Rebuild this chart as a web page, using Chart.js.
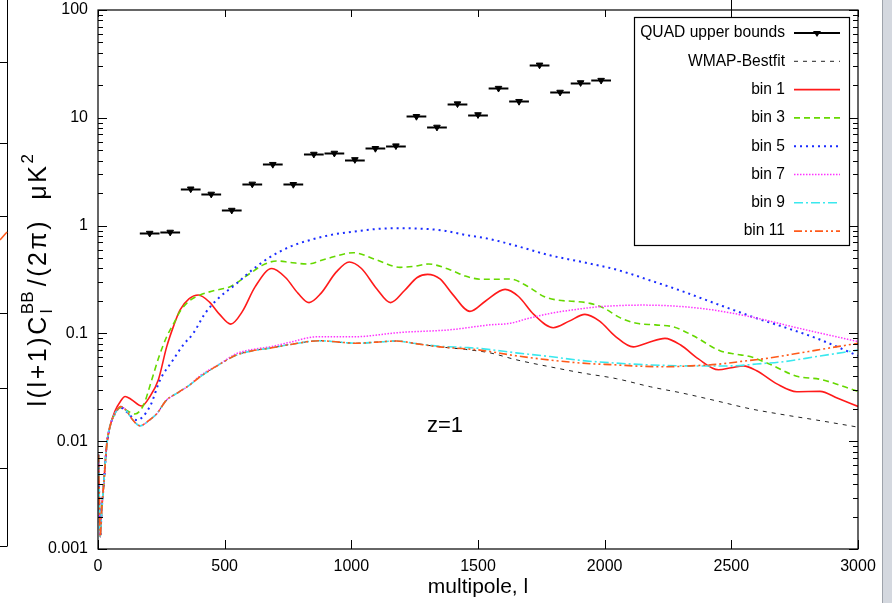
<!DOCTYPE html>
<html>
<head>
<meta charset="utf-8">
<script src="https://cdn.jsdelivr.net/npm/chart.js@4.4.0/dist/chart.umd.min.js"></script>
<style>
  html, body { margin: 0; padding: 0; background: #fff; }
  canvas { display: block; }
</style>
</head>
<body>
<canvas id="chart" width="892" height="603"></canvas>
<script>
// --- data (multipole l, value in uK^2) ---
const quadEll   = [204, 285, 366, 447, 528, 609, 690, 771, 852, 933, 1014, 1095, 1176, 1257, 1338, 1419, 1500, 1581, 1662, 1743, 1824, 1905, 1986];
const quadUpper = [0.85, 0.87, 2.19, 1.96, 1.39, 2.43, 3.7, 2.41, 4.6, 4.7, 4.1, 5.2, 5.5, 10.3, 8.2, 13.5, 10.7, 18.8, 14.2, 30.9, 17.3, 21.2, 22.3];
const quadHalfWidth = 39;

const wmapEll = [2, 5, 9, 14, 22, 34, 47, 67, 89, 110, 135, 166, 200, 232, 270, 311, 360, 403, 470, 547, 610, 679, 760, 876, 950, 1021, 1100, 1179, 1260, 1350, 1450, 1547, 1650, 1784, 1910, 2047, 2180, 2311, 2440, 2574, 2700, 2837, 3000];
const wmapVal = [0.0075, 0.003, 0.0013, 0.0022, 0.0038, 0.009, 0.0136, 0.018, 0.021, 0.0195, 0.016, 0.0139, 0.0155, 0.018, 0.024, 0.0278, 0.033, 0.0396, 0.05, 0.063, 0.069, 0.073, 0.079, 0.0855, 0.083, 0.081, 0.083, 0.085, 0.08, 0.075, 0.071, 0.066, 0.057, 0.049, 0.043, 0.038, 0.032, 0.0278, 0.0237, 0.020, 0.0177, 0.0157, 0.0135];

const bin1Ell = [2, 5, 9, 14, 22, 34, 47, 67, 89, 107, 130, 172, 205, 238, 271, 300, 324, 360, 396, 440, 480, 524, 570, 620, 686, 740, 790, 833, 880, 940, 992, 1040, 1100, 1155, 1210, 1260, 1301, 1350, 1400, 1468, 1530, 1607, 1660, 1720, 1797, 1860, 1922, 1980, 2040, 2113, 2170, 2238, 2300, 2370, 2449, 2500, 2547, 2600, 2680, 2758, 2850, 2920, 3000];
const bin1Val = [0.0075, 0.003, 0.0013, 0.0022, 0.0038, 0.009, 0.0136, 0.019, 0.0235, 0.026, 0.0245, 0.0212, 0.026, 0.037, 0.075, 0.12, 0.165, 0.21, 0.227, 0.195, 0.15, 0.122, 0.16, 0.27, 0.40, 0.33, 0.235, 0.193, 0.235, 0.37, 0.46, 0.40, 0.26, 0.193, 0.25, 0.33, 0.353, 0.32, 0.23, 0.16, 0.20, 0.256, 0.22, 0.15, 0.113, 0.13, 0.150, 0.13, 0.095, 0.075, 0.082, 0.090, 0.078, 0.058, 0.046, 0.048, 0.050, 0.045, 0.034, 0.0288, 0.029, 0.025, 0.021];

const bin3Ell = [2, 5, 9, 14, 22, 34, 47, 67, 89, 110, 146, 179, 212, 240, 271, 300, 324, 360, 403, 460, 521, 600, 650, 705, 760, 824, 900, 1008, 1100, 1192, 1250, 1304, 1389, 1450, 1514, 1570, 1626, 1700, 1760, 1811, 1880, 1942, 2000, 2060, 2126, 2200, 2271, 2350, 2455, 2520, 2574, 2650, 2758, 2850, 3000];
const bin3Val = [0.0075, 0.003, 0.0013, 0.0022, 0.0038, 0.009, 0.0136, 0.018, 0.0205, 0.0195, 0.0179, 0.0215, 0.037, 0.06, 0.093, 0.125, 0.16, 0.2, 0.227, 0.25, 0.271, 0.36, 0.43, 0.47, 0.455, 0.44, 0.49, 0.56, 0.48, 0.41, 0.42, 0.44, 0.39, 0.34, 0.318, 0.318, 0.32, 0.27, 0.22, 0.204, 0.198, 0.19, 0.17, 0.14, 0.124, 0.12, 0.115, 0.095, 0.069, 0.064, 0.061, 0.052, 0.040, 0.0375, 0.029];

const bin5Ell = [2, 5, 9, 14, 22, 34, 47, 67, 89, 110, 153, 205, 245, 297, 336, 376, 420, 468, 547, 610, 679, 760, 837, 920, 1008, 1100, 1192, 1280, 1363, 1450, 1547, 1660, 1784, 1910, 2047, 2180, 2311, 2410, 2508, 2600, 2705, 2837, 3000];
const bin5Val = [0.0075, 0.003, 0.0013, 0.0022, 0.0038, 0.009, 0.0136, 0.018, 0.0205, 0.019, 0.0157, 0.021, 0.037, 0.057, 0.078, 0.1, 0.15, 0.204, 0.29, 0.39, 0.51, 0.64, 0.735, 0.82, 0.88, 0.93, 0.945, 0.935, 0.9, 0.82, 0.75, 0.64, 0.53, 0.46, 0.39, 0.31, 0.244, 0.2, 0.165, 0.138, 0.115, 0.09, 0.062];

const bin7Ell = [2, 5, 9, 14, 22, 34, 47, 67, 89, 110, 135, 166, 200, 232, 270, 311, 360, 403, 480, 547, 610, 679, 760, 863, 1008, 1192, 1389, 1547, 1626, 1700, 1784, 1880, 1982, 2153, 2376, 2574, 2771, 3000];
const bin7Val = [0.0075, 0.003, 0.0013, 0.0022, 0.0038, 0.009, 0.0136, 0.018, 0.021, 0.0195, 0.016, 0.0139, 0.0155, 0.018, 0.024, 0.0278, 0.033, 0.0405, 0.052, 0.065, 0.071, 0.075, 0.083, 0.093, 0.093, 0.102, 0.108, 0.12, 0.124, 0.138, 0.153, 0.166, 0.177, 0.183, 0.171, 0.143, 0.111, 0.084];

const bin9Ell = [2, 5, 9, 14, 22, 34, 47, 67, 89, 110, 135, 166, 200, 232, 270, 311, 360, 403, 470, 547, 610, 679, 760, 876, 950, 1021, 1100, 1179, 1260, 1350, 1450, 1508, 1650, 1784, 1910, 2047, 2180, 2311, 2420, 2508, 2600, 2705, 2837, 3000];
const bin9Val = [0.0075, 0.003, 0.0013, 0.0022, 0.0038, 0.009, 0.0136, 0.018, 0.021, 0.0195, 0.016, 0.0139, 0.0155, 0.018, 0.024, 0.0278, 0.033, 0.0396, 0.05, 0.063, 0.069, 0.073, 0.079, 0.0855, 0.083, 0.081, 0.083, 0.085, 0.08, 0.076, 0.074, 0.0725, 0.066, 0.061, 0.056, 0.053, 0.051, 0.050, 0.0498, 0.050, 0.052, 0.0546, 0.061, 0.070];

const bin11Ell = [2, 5, 9, 14, 22, 34, 47, 67, 89, 110, 135, 166, 200, 232, 270, 311, 360, 403, 470, 547, 610, 679, 760, 876, 950, 1021, 1100, 1179, 1260, 1350, 1450, 1508, 1650, 1784, 1910, 2047, 2150, 2245, 2340, 2442, 2540, 2640, 2740, 2837, 3000];
const bin11Val = [0.0075, 0.003, 0.0013, 0.0022, 0.0038, 0.009, 0.0136, 0.018, 0.021, 0.0195, 0.016, 0.0139, 0.0155, 0.018, 0.024, 0.0278, 0.033, 0.0396, 0.05, 0.063, 0.069, 0.073, 0.079, 0.0855, 0.083, 0.081, 0.083, 0.085, 0.08, 0.075, 0.072, 0.070, 0.062, 0.0566, 0.053, 0.051, 0.0495, 0.049, 0.050, 0.0516, 0.055, 0.0587, 0.064, 0.070, 0.081];

const xTickValues = [0, 500, 1000, 1500, 2000, 2500, 3000];
const yTickValues = [0.001, 0.01, 0.1, 1, 10, 100];

const FONT = '"Liberation Sans", Arial, Helvetica, sans-serif';

function pts(xs, ys) {
    return xs.map((x, i) => ({ x: x, y: ys[i] }));
}

function curve(label, xs, ys, color, dash, width, order) {
    return {
        label: label,
        data: pts(xs, ys),
        showLine: true,
        borderColor: color,
        backgroundColor: color,
        borderWidth: width,
        borderDash: dash,
        pointRadius: 0,
        cubicInterpolationMode: 'monotone',
        order: order,
    };
}

const datasets = [
    {
        label: 'QUAD upper bounds',
        data: pts(quadEll, quadUpper),
        showLine: false,
        pointStyle: 'triangle',
        rotation: 180,
        pointRadius: 3.8,
        backgroundColor: '#000',
        borderColor: '#000',
        borderWidth: 1,
        order: 9,
    },
    curve('WMAP-Bestfit', wmapEll, wmapVal, '#222', [4, 5], 1, 8),
    curve('bin 1', bin1Ell, bin1Val, '#ff1a1a', [], 1.6, 7),
    curve('bin 3', bin3Ell, bin3Val, '#66d800', [6, 4], 1.6, 6),
    curve('bin 5', bin5Ell, bin5Val, '#1a2cff', [2, 4], 2, 5),
    curve('bin 7', bin7Ell, bin7Val, '#ff33ff', [1.5, 1.5], 1.5, 4),
    curve('bin 9', bin9Ell, bin9Val, '#3ae8ee', [9, 3, 2, 3], 1.6, 3),
    curve('bin 11', bin11Ell, bin11Val, '#ff5a1a', [8, 3, 2, 3, 2, 3], 1.6, 2),
];

// horizontal bars of the upper bounds, frame ticks, legend and extra texts
const decorations = {
    id: 'decorations',
    afterDatasetsDraw(chart) {
        const ctx = chart.ctx;
        const a = chart.chartArea;
        const xs = chart.scales.x;
        const ys = chart.scales.y;

        ctx.save();

        // QUAD bin bars
        ctx.strokeStyle = '#000';
        ctx.lineWidth = 2;
        quadEll.forEach((l, i) => {
            const py = Math.round(ys.getPixelForValue(quadUpper[i])) + 0.5;
            ctx.beginPath();
            ctx.moveTo(xs.getPixelForValue(l - quadHalfWidth), py);
            ctx.lineTo(xs.getPixelForValue(l + quadHalfWidth), py);
            ctx.stroke();
        });

        // frame
        ctx.lineWidth = 1.2;
        ctx.strokeStyle = '#000';
        ctx.strokeRect(a.left, a.top, a.right - a.left, a.bottom - a.top);

        // inward ticks
        ctx.lineWidth = 1;
        ctx.beginPath();
        for (let e = -3; e <= 2; e++) {
            for (let m = 1; m <= 9; m++) {
                const v = m * Math.pow(10, e);
                if (v > 100) break;
                const py = Math.round(ys.getPixelForValue(v)) + 0.5;
                const len = m === 1 ? 9 : 5;
                ctx.moveTo(a.left, py);
                ctx.lineTo(a.left + len, py);
                ctx.moveTo(a.right, py);
                ctx.lineTo(a.right - len, py);
            }
        }
        xTickValues.forEach(l => {
            const px = Math.round(xs.getPixelForValue(l)) + 0.5;
            ctx.moveTo(px, a.bottom);
            ctx.lineTo(px, a.bottom - 9);
            ctx.moveTo(px, a.top);
            ctx.lineTo(px, a.top + 7);
        });
        const p2500 = Math.round(xs.getPixelForValue(2500)) + 0.5;
        ctx.moveTo(p2500, 0);
        ctx.lineTo(p2500, a.top);
        ctx.stroke();

        // z=1 label
        ctx.fillStyle = '#000';
        ctx.font = '22px ' + FONT;
        ctx.textAlign = 'left';
        ctx.textBaseline = 'alphabetic';
        ctx.fillText('z=1', 427, 432);

        // legend box
        const bx = 634, by = 17, bw = 215, bh = 228;
        ctx.fillStyle = '#fff';
        ctx.fillRect(bx, by, bw, bh);
        ctx.strokeStyle = '#000';
        ctx.lineWidth = 1.2;
        ctx.strokeRect(bx + 0.5, by + 0.5, bw, bh);

        ctx.font = '15.6px ' + FONT;
        ctx.textAlign = 'right';
        ctx.textBaseline = 'middle';
        chart.data.datasets.forEach((ds, i) => {
            const ry = 33 + i * 28.3;
            ctx.fillStyle = '#000';
            ctx.fillText(ds.label, 785, ry);
            ctx.save();
            ctx.strokeStyle = ds.borderColor;
            if (i === 0) {
                ctx.lineWidth = 2;
                ctx.setLineDash([]);
                ctx.beginPath();
                ctx.moveTo(794, ry);
                ctx.lineTo(840, ry);
                ctx.stroke();
                ctx.fillStyle = '#000';
                ctx.beginPath();
                ctx.moveTo(813, ry - 2);
                ctx.lineTo(821, ry - 2);
                ctx.lineTo(817, ry + 4);
                ctx.closePath();
                ctx.fill();
            } else {
                ctx.lineWidth = ds.borderWidth;
                ctx.setLineDash(ds.borderDash);
                ctx.beginPath();
                ctx.moveTo(794, ry);
                ctx.lineTo(840, ry);
                ctx.stroke();
            }
            ctx.restore();
        });

        ctx.restore();
    },
    afterDraw(chart) {
        const ctx = chart.ctx;
        ctx.save();

        // y-axis title with sub/superscripts, spread to the length seen in the picture
        const big = '25px ' + FONT;
        const small = '17px ' + FONT;
        const targetLength = 255;
        ctx.translate(46, 279);
        ctx.rotate(-Math.PI / 2);
        ctx.fillStyle = '#000';
        ctx.textAlign = 'left';
        ctx.textBaseline = 'alphabetic';
        ctx.font = big;
        const w1 = ctx.measureText('l(l+1)C').width;
        const w3 = ctx.measureText('/(2\u03c0)  \u03bcK').width;
        ctx.font = small;
        const wSup = ctx.measureText('BB').width;
        const w2 = ctx.measureText('2').width;
        const natural = w1 + wSup + w3 + w2;
        const gap = Math.max(0, (targetLength - natural) / 19);
        const total = natural + gap * 19;
        let x = -total / 2;
        ctx.letterSpacing = gap.toFixed(2) + 'px';
        ctx.font = big;
        ctx.fillText('l(l+1)C', x, 0);
        x += w1 + gap * 7;
        ctx.letterSpacing = '0px';
        ctx.font = small;
        ctx.fillText('l', x + 1, 6);
        ctx.fillText('BB', x, -13);
        x += wSup + gap * 2;
        ctx.letterSpacing = gap.toFixed(2) + 'px';
        ctx.font = big;
        ctx.fillText('/(2\u03c0)  \u03bcK', x, 0);
        x += w3 + gap * 9;
        ctx.letterSpacing = '0px';
        ctx.font = small;
        ctx.fillText('2', x, -13);
        ctx.restore();

        // bits of the screenshot surroundings
        ctx.save();
        ctx.strokeStyle = '#000';
        ctx.lineWidth = 1;
        ctx.beginPath();
        ctx.moveTo(7.5, 0);
        ctx.lineTo(7.5, 546);
        [62, 143, 216, 313, 388, 468, 546].forEach(y => {
            ctx.moveTo(0, y + 0.5);
            ctx.lineTo(7.5, y + 0.5);
        });
        ctx.stroke();
        ctx.strokeStyle = '#ff5a1a';
        ctx.lineWidth = 1.5;
        ctx.beginPath();
        ctx.moveTo(0, 240);
        ctx.lineTo(7, 232);
        ctx.stroke();
        ctx.fillStyle = '#d4d8df';
        ctx.fillRect(882, 0, 10, 603);
        ctx.fillStyle = '#9ea3ab';
        ctx.fillRect(882, 0, 1, 603);
        ctx.restore();
    }
};

new Chart(document.getElementById('chart'), {
    type: 'scatter',
    data: { datasets: datasets },
    options: {
        responsive: false,
        animation: false,
        events: [],
        layout: { padding: { left: 0, top: 10, right: 34, bottom: 0 } },
        plugins: {
            legend: { display: false },
            tooltip: { enabled: false },
        },
        scales: {
            x: {
                type: 'linear',
                min: 0,
                max: 3000,
                afterBuildTicks: (scale) => {
                    scale.ticks = xTickValues.map(v => ({ value: v }));
                },
                afterFit: (scale) => { scale.height = 54; },
                grid: { display: false, drawTicks: false },
                border: { display: false },
                ticks: {
                    color: '#000',
                    font: { family: FONT, size: 16 },
                    padding: 8,
                    maxRotation: 0,
                    callback: (v) => String(v),
                },
                title: {
                    display: true,
                    text: 'multipole, l',
                    color: '#000',
                    font: { family: FONT, size: 21 },
                    padding: { top: 0, bottom: 3 },
                },
            },
            y: {
                type: 'logarithmic',
                min: 0.001,
                max: 100,
                afterBuildTicks: (scale) => {
                    scale.ticks = yTickValues.map(v => ({ value: v }));
                },
                afterFit: (scale) => {
                    scale.width = 98;
                    scale.paddingTop = 0;
                    scale.paddingBottom = 0;
                },
                grid: { display: false, drawTicks: false },
                border: { display: false },
                ticks: {
                    color: '#000',
                    font: { family: FONT, size: 16 },
                    padding: 10,
                    callback: (v) => String(v),
                },
            },
        },
    },
    plugins: [decorations],
});
</script>
</body>
</html>
